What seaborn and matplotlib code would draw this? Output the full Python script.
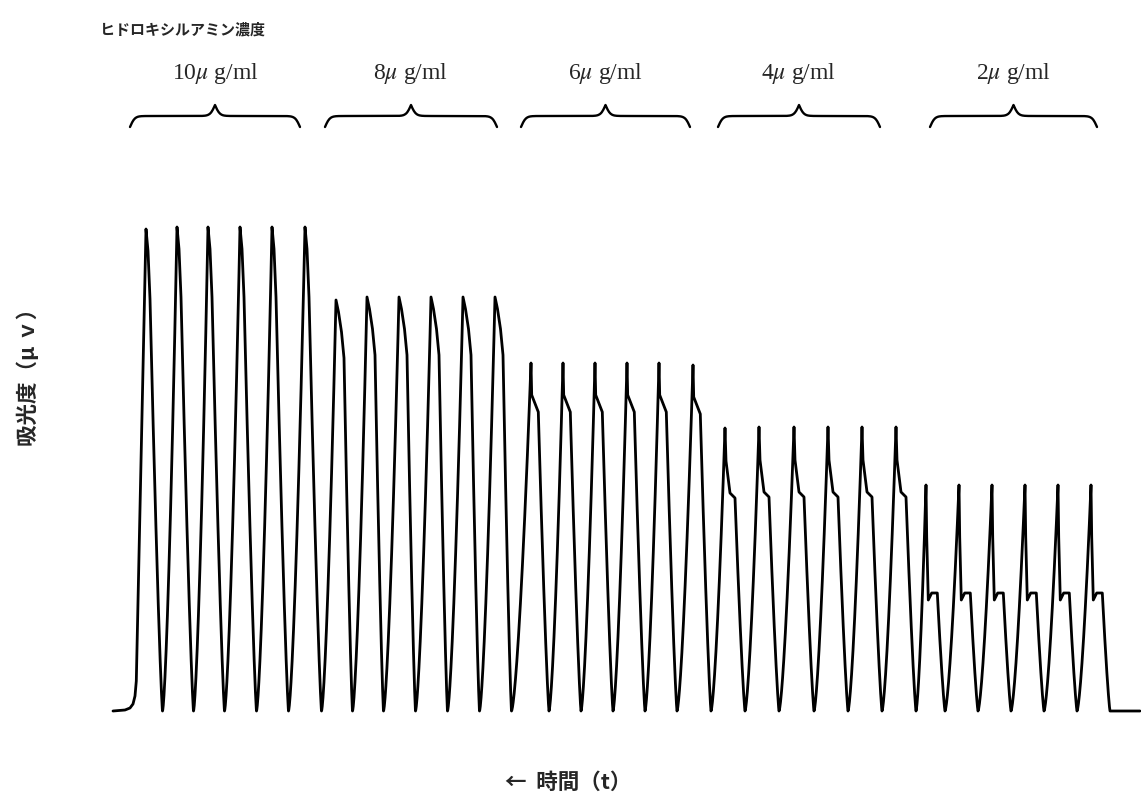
import numpy as np
import pandas as pd
import matplotlib
matplotlib.use("Agg")
import matplotlib.pyplot as plt
import seaborn as sns

# ---- data -------------------------------------------------------------
# hydroxylamine standards (μg/ml), six repeated injections each
conc_labels = ["10", "8", "6", "4", "2"]

# apex times of the injections (s) and their heights (μV)
peak_times = [
    [33, 64, 95, 127, 159, 192],
    [223, 254, 286, 318, 350, 382],
    [418, 450, 482, 514, 546, 580],
    [612, 646, 681, 715, 749, 783],
    [813, 846, 879, 912, 945, 978],
]
peak_heights = [
    [482, 484, 484, 484, 484, 484],
    [411, 414, 414, 414, 414, 414],
    [348, 348, 348, 348, 348, 346],
    [283, 284, 284, 284, 284, 284],
    [226, 226, 226, 226, 226, 226],
]

# falling edge after each apex: time after apex (s) and drop below apex (μV)
tail_dt = [
    [2.0, 4.0],
    [2.5, 5.5, 8.0],
    [0.7, 7.3],
    [1.0, 5.0, 10.0],
    [0.7, 2.3, 5.7, 11.3],
]
tail_drop = [
    [22, 70],
    [12, 32, 58],
    [32, 49],
    [33, 65, 70],
    [52, 115, 108, 108],
]
# time from apex back to the baseline (s)
valley_lag = [16.5, 16.5, 18, 20, 19]

# baseline before the first injection and end of the record
lead_t = [0, 12, 17, 20, 22, 23.3]
lead_y = [0, 1, 3, 7, 15, 30]
trace_end = 1027

# curvature of the flanks: rising edge ~ u**P_RISE, falling edge ~ (1-u)**P_FALL
P_RISE, P_FALL = 1.5, 1.25

# ---- build the detector trace -----------------------------------------
ts, ys = list(lead_t), list(lead_y)
u = np.linspace(0, 1, 60)[1:]
first = True
for g in range(len(peak_times)):
    for p, h in zip(peak_times[g], peak_heights[g]):
        t0, y0 = ts[-1], ys[-1]
        if first:
            # straight run-up of the very first injection
            ts.append(p)
            ys.append(h)
            first = False
        else:
            ts.extend(t0 + u * (p - t0))
            ys.extend(h * u ** P_RISE)
        for dt, dr in zip(tail_dt[g], tail_drop[g]):
            ts.append(p + dt)
            ys.append(h - dr)
        t1, y1 = ts[-1], ys[-1]
        tv = p + valley_lag[g]
        ts.extend(t1 + u * (tv - t1))
        ys.extend(y1 * (1 - u) ** P_FALL)
ts.append(trace_end)
ys.append(0.0)

trace = pd.DataFrame({"time": ts, "signal": ys})

# ---- figure -----------------------------------------------------------
sns.set_style("white")
plt.rcParams["font.family"] = ["Noto Sans CJK JP", "DejaVu Sans"]
plt.rcParams["mathtext.fontset"] = "stix"

W, H = 1141, 807
fig = plt.figure(figsize=(W / 100, H / 100), dpi=100)
ax = fig.add_axes([0, 0, 1, 1])
sns.lineplot(data=trace, x="time", y="signal", ax=ax, color="black",
             linewidth=2.0, sort=False, estimator=None)
for ln in ax.get_lines():
    ln.set_solid_joinstyle("round")
    ln.set_solid_capstyle("round")
ax.set_xlim(-113, 1028)
ax.set_ylim(-96, 711)
ax.axis("off")


def fx(px):
    return px / W


def fy(py):
    return 1 - py / H


# braces over each concentration group (time span, in s)
brace_spans = [(17, 187), (212, 384), (408, 577), (605, 767), (817, 984)]
brace_end, brace_amp, beta = 584.0, 22.0, 0.42


def sig(z):
    return 1 / (1 + np.exp(-z))


for (x0, x1), lab in zip(brace_spans, conc_labels):
    xm = (x0 + x1) / 2
    xl = np.linspace(x0, xm, 120)
    yl = brace_end + brace_amp * (sig(beta * (xl - x0)) + sig(beta * (xl - xm)) - 0.5)
    xr = 2 * xm - xl[::-1]
    yr = yl[::-1]
    ax.plot(np.r_[xl, xr], np.r_[yl, yr], color="black", lw=1.7,
            solid_capstyle="round", clip_on=False)
    ax.text(xm, 637, lab + r"$\mu$" + " g/ml", ha="center", va="center",
            fontsize=17, family=["Liberation Serif", "DejaVu Serif"])

fig.text(fx(100), fy(30), "ヒドロキシルアミン濃度", ha="left", va="center",
         fontsize=10.8, fontweight="bold")
fig.text(fx(28), fy(372), "吸光度（μ ｖ）", rotation=90, ha="center",
         va="center", fontsize=15.5, fontweight="bold")
fig.text(fx(568), fy(782), "←  時間（t）", ha="center", va="center",
         fontsize=15.5, fontweight="bold")

fig.savefig("out.png", dpi=100, facecolor="white")
